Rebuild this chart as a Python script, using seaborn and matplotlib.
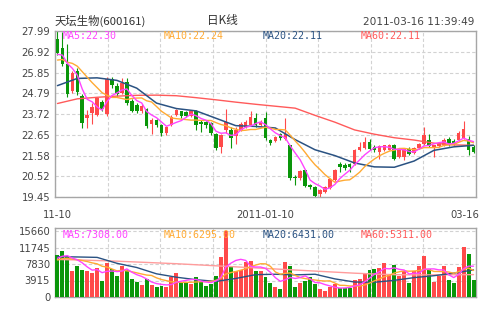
import numpy as np
import pandas as pd
import matplotlib
matplotlib.use("Agg")
import matplotlib.pyplot as plt
import matplotlib.transforms as mtransforms
import seaborn as sns

# Daily OHLC, 2010-11-10 .. 2011-03-16
open_ = [27.60, 27.10, 26.30, 24.90, 25.95, 24.65, 23.50, 23.75, 23.65, 24.35,
         23.70, 25.50, 25.15, 24.80, 25.35, 24.40, 24.20, 23.85, 24.00, 23.20,
         23.40, 23.15, 22.72, 23.15, 23.65, 23.85, 23.80, 23.62, 23.90, 23.32,
         23.32, 23.25, 22.70, 22.03, 22.90, 22.90, 22.58, 22.90, 23.05, 23.15,
         23.50, 23.15, 23.50, 22.40, 22.35, 22.68, 22.45, 22.10, 20.50, 20.42,
         20.82, 20.05, 19.98, 19.62, 19.72, 19.90, 20.30, 21.15, 21.12, 21.15,
         21.17, 21.86, 21.95, 22.28, 22.00, 21.78, 21.86, 21.88, 22.10, 21.52,
         21.52, 21.94, 21.72, 21.95, 22.20, 22.38, 21.95, 22.05, 22.10, 22.45,
         22.35, 22.40, 22.50, 22.45, 22.00]
high = [27.99, 27.95, 27.30, 25.95, 26.10, 24.75, 23.95, 24.30, 24.60, 24.45,
        25.60, 25.60, 25.30, 25.55, 25.55, 24.50, 24.30, 24.25, 24.05, 23.50,
        23.45, 23.20, 23.10, 23.65, 24.00, 23.90, 23.85, 23.95, 23.95, 23.40,
        23.35, 23.30, 22.75, 22.70, 24.00, 23.05, 23.05, 23.30, 23.40, 23.85,
        23.75, 23.40, 23.80, 22.45, 22.60, 22.75, 23.50, 22.15, 20.60, 20.85,
        20.85, 20.10, 20.00, 19.88, 20.00, 20.45, 20.90, 21.25, 21.20, 21.20,
        21.90, 22.30, 22.55, 22.45, 22.10, 22.10, 22.15, 22.20, 22.20, 21.90,
        21.95, 22.00, 22.00, 22.25, 23.05, 22.70, 22.15, 22.30, 22.50, 22.55,
        22.45, 22.85, 23.35, 22.60, 22.10]
low = [26.75, 26.20, 24.60, 24.80, 24.70, 23.00, 23.00, 23.20, 23.60, 23.90,
       23.60, 25.05, 24.65, 24.75, 24.20, 23.80, 23.75, 23.75, 23.00, 22.70,
       23.05, 22.60, 22.65, 23.10, 23.60, 23.50, 23.55, 23.55, 22.90, 22.80,
       23.00, 22.65, 21.85, 21.70, 22.75, 21.95, 22.20, 22.85, 23.00, 23.10,
       23.05, 23.10, 22.40, 22.10, 22.30, 22.40, 22.40, 20.35, 20.05, 20.35,
       19.95, 19.85, 19.45, 19.45, 19.65, 19.85, 20.25, 20.75, 20.85, 20.75,
       21.10, 21.80, 21.90, 21.85, 21.75, 21.38, 21.80, 21.85, 21.35, 21.45,
       21.35, 21.60, 21.65, 21.90, 22.15, 22.00, 21.50, 22.00, 22.05, 22.05,
       22.15, 22.35, 22.45, 21.60, 21.70]
close = [26.85, 26.30, 24.75, 25.85, 24.85, 23.28, 23.65, 24.10, 24.55, 24.00,
         25.50, 25.20, 24.75, 25.30, 24.30, 23.85, 23.85, 24.15, 23.10, 23.40,
         23.15, 22.75, 23.05, 23.58, 23.92, 23.60, 23.62, 23.87, 23.15, 23.20,
         23.15, 22.72, 21.95, 22.63, 23.30, 22.50, 22.88, 23.20, 23.32, 23.58,
         23.15, 23.32, 22.50, 22.22, 22.55, 22.48, 22.70, 20.42, 20.42, 20.80,
         20.02, 19.95, 19.50, 19.80, 19.95, 20.40, 20.82, 21.00, 20.92, 20.98,
         21.85, 22.03, 22.29, 21.92, 21.85, 22.05, 22.10, 22.10, 21.42, 21.85,
         21.92, 21.68, 21.95, 22.20, 22.62, 22.05, 22.10, 22.25, 22.40, 22.10,
         22.20, 22.75, 22.95, 21.85, 21.75]
volume = [9970, 10990, 9560, 6170, 7430, 6410, 6170, 5690, 6800, 3800,
          7990, 6560, 4980, 7360, 6410, 4200, 3560, 2930, 4270, 2850,
          2300, 2610, 2300, 4660, 5620, 3600, 3600, 3200, 4860, 3600,
          2500, 2970, 5030, 9450, 15660, 7000, 6210, 6370, 8190, 8590,
          6210, 6210, 4790, 3440, 2260, 1860, 8190, 7400, 2260, 3440,
          3830, 4630, 3050, 1860, 1390, 2260, 3050, 2020, 2020, 2020,
          4000, 4230, 5660, 6370, 6760, 6970, 8160, 5150, 7530, 5000,
          6180, 3410, 6180, 7370, 9720, 6600, 3500, 5000, 7300, 4010,
          3240, 7100, 11900, 10300, 4000]

# sessions just before the first one, needed to start the short averages
prior_close = [26.0, 26.2, 26.4, 26.3, 26.1, 26.5, 26.9, 27.1, 26.6]
prior_volume = [8000, 8600, 8200, 8700, 8500, 8600, 8800, 9100, 9500]

# long averages, one value every 4 sessions (0, 4, ..., 84)
ma_step = 4
ma20_price = [25.18, 25.55, 25.58, 25.45, 25.05, 24.28, 24.00, 23.88, 23.50, 23.12, 23.08,
              23.00, 22.40, 21.88, 21.58, 21.20, 21.00, 20.98, 21.30, 21.85, 22.03, 22.11]
ma60_price = [24.26, 24.50, 24.58, 24.64, 24.68, 24.69, 24.66, 24.56, 24.45, 24.33, 24.22,
              24.12, 24.02, 23.65, 23.30, 22.90, 22.68, 22.50, 22.38, 22.22, 22.13, 22.11]
ma20_volume = [9570, 9500, 9400, 8000, 7000, 5500, 4700, 4100, 3700, 4400, 5300,
               5400, 5250, 5400, 4300, 3550, 3500, 3950, 4600, 5050, 5650, 6431]
ma60_volume = [8900, 8800, 8650, 8500, 8300, 8100, 7900, 7650, 7400, 7150, 6900,
               6650, 6400, 6150, 5900, 5650, 5450, 5300, 5250, 5250, 5280, 5311]

price_ticks = [19.45, 20.52, 21.58, 22.65, 23.72, 24.79, 25.85, 26.92, 27.99]
volume_ticks = [0, 3915, 7830, 11745, 15660]
date_labels = [(0, "11-10"), (42, "2011-01-10"), (84, "03-16")]

RED = "#ff4a4a"
GREEN = "#0a960a"
C_MA5 = "#ff44ff"
C_MA10 = "#ffaa33"
C_MA20 = "#2a5282"
C_MA60 = "#ff5a5a"
C_MA60_V = "#ff9c9c"
GRID = "#d2d2d2"
FRAME = "#a6a6a6"

sns.set_theme(style="white")
plt.rcParams["font.family"] = ["DejaVu Sans"]

o = np.array(open_)
h = np.array(high)
l = np.array(low)
c = np.array(close)
v = np.array(volume, dtype=float)
n = len(c)
idx = np.arange(n)
up = c >= o
colors = np.where(up, RED, GREEN)


def moving(prior, values, window):
    s = pd.Series(list(prior) + list(values), dtype=float)
    return s.rolling(window).mean().to_numpy()[len(prior):]


ma5 = moving(prior_close, c, 5)
ma10 = moving(prior_close, c, 10)
vma5 = moving(prior_volume, v, 5)
vma10 = moving(prior_volume, v, 10)
long_x = idx[::ma_step]

W, H = 500, 327
fig = plt.figure(figsize=(W / 100, H / 100), dpi=100)
fig.patch.set_facecolor("white")
ax = fig.add_axes([55 / W, 1 - 197 / H, 421 / W, 166 / H])
axv = fig.add_axes([55 / W, 1 - 297 / H, 421 / W, 69 / H])

# candlesticks
ax.vlines(idx, l, h, colors=colors, linewidth=0.8, zorder=2)
body_lo = np.minimum(o, c)
body_h = np.maximum(np.abs(c - o), 0.025)
ax.bar(idx, body_h, bottom=body_lo, width=0.72, color=colors, linewidth=0, zorder=3)

# price moving averages
sns.lineplot(x=long_x, y=ma60_price, color=C_MA60, linewidth=1.0, ax=ax, zorder=4)
sns.lineplot(x=long_x, y=ma20_price, color=C_MA20, linewidth=1.1, ax=ax, zorder=4)
sns.lineplot(x=idx, y=ma10, color=C_MA10, linewidth=1.0, ax=ax, zorder=5)
sns.lineplot(x=idx, y=ma5, color=C_MA5, linewidth=1.0, ax=ax, zorder=6)

# volume bars and averages
vol_df = pd.DataFrame({"session": idx, "volume": v, "dir": np.where(up, "up", "down")})
sns.barplot(data=vol_df, x="session", y="volume", hue="dir",
            palette={"up": RED, "down": GREEN}, native_scale=True, width=0.8,
            dodge=False, saturation=1, legend=False, errorbar=None,
            linewidth=0, ax=axv, zorder=3)
sns.lineplot(x=long_x, y=ma60_volume, color=C_MA60_V, linewidth=1.0, ax=axv, zorder=4)
sns.lineplot(x=long_x, y=ma20_volume, color=C_MA20, linewidth=1.0, ax=axv, zorder=4)
sns.lineplot(x=idx, y=vma10, color=C_MA10, linewidth=1.0, ax=axv, zorder=5)
sns.lineplot(x=idx, y=vma5, color=C_MA5, linewidth=1.0, ax=axv, zorder=6)

vgrid = np.linspace(-0.5, n - 0.5, 9)
for a in (ax, axv):
    a.set_xlim(-0.5, n - 0.5)
    a.set_xticks(vgrid)
    a.set_xticklabels([])
    a.set_xlabel("")
    a.set_ylabel("")
    a.set_facecolor("white")
    a.grid(True, color=GRID, linestyle=(0, (3, 2)), linewidth=0.8, zorder=0)
    a.set_axisbelow(True)
    a.tick_params(axis="both", length=0, labelsize=7.2, labelcolor="#444444", pad=3.5)
    for sp in a.spines.values():
        sp.set_color(FRAME)
        sp.set_linewidth(1.0)
        sp.set_visible(True)

ax.set_ylim(price_ticks[0], price_ticks[-1])
ax.set_yticks(price_ticks)
ax.set_yticklabels([f"{t:.2f}" for t in price_ticks])

axv.set_ylim(0, volume_ticks[-1] * 69 / 66)
axv.set_yticks(volume_ticks)
axv.set_yticklabels([str(t) for t in volume_ticks])

# indicator captions
mono = "DejaVu Sans Mono"
cap_x = [0.019, 0.257, 0.492, 0.727]
caps = [("MA5:%.2f" % ma5[-1], C_MA5), ("MA10:%.2f" % ma10[-1], C_MA10),
        ("MA20:%.2f" % ma20_price[-1], C_MA20), ("MA60:%.2f" % ma60_price[-1], C_MA60)]
for x, (t, col) in zip(cap_x, caps):
    ax.text(x, 0.97, t, transform=ax.transAxes, ha="left", va="center",
            fontsize=7.2, family=mono, color=col, zorder=10)
vcaps = [("MA5:%.2f" % vma5[-1], C_MA5), ("MA10:%.2f" % vma10[-1], C_MA10),
         ("MA20:%.2f" % ma20_volume[-1], C_MA20), ("MA60:%.2f" % ma60_volume[-1], C_MA60)]
for x, (t, col) in zip(cap_x, vcaps):
    axv.text(x, 0.9, t, transform=axv.transAxes, ha="left", va="center",
             fontsize=7.2, family=mono, color=col, zorder=10)

# date labels under the price panel
trans = mtransforms.blended_transform_factory(ax.transData, ax.transAxes)
for i, lab in date_labels:
    ha = "center"
    xx = i
    if i == n - 1:
        ha, xx = "right", n - 0.5 + 0.6
    ax.text(xx, -0.108, lab, transform=trans, ha=ha, va="center",
            fontsize=7.2, color="#444444")

# header
cjk = ["Noto Sans CJK SC", "DejaVu Sans"]
fig.text(55 / W, 1 - 20.5 / H, "天坛生物(600161)", ha="left", va="center",
         fontsize=8.2, family=cjk, color="#333333")
fig.text(222 / W, 1 - 20.5 / H, "日K线", ha="center", va="center",
         fontsize=8.4, family=cjk, color="#333333")
fig.text(474 / W, 1 - 22 / H, "2011-03-16 11:39:49", ha="right", va="center",
         fontsize=7.6, color="#444444")

fig.savefig("out.png", dpi=100, facecolor="white")
